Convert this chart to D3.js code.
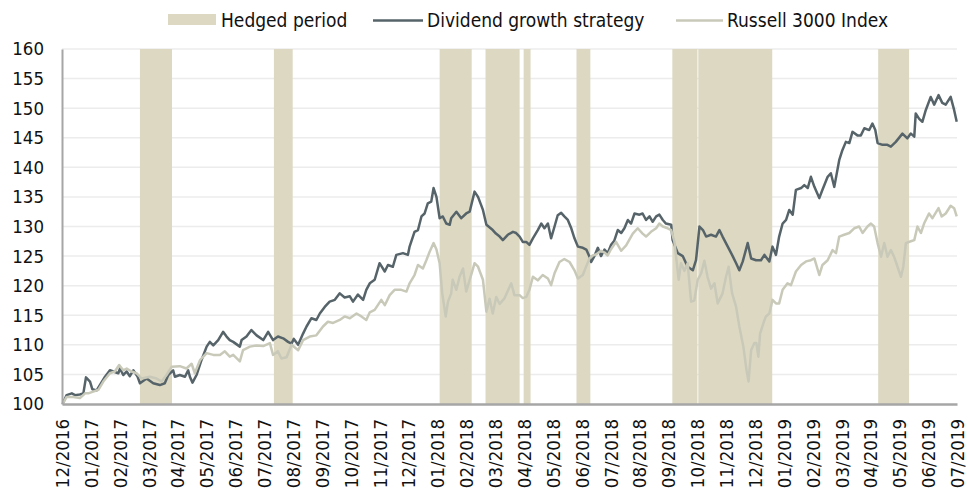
<!DOCTYPE html>
<html><head><meta charset="utf-8">
<script src="https://cdn.jsdelivr.net/npm/d3@7"></script>
<style>
body{margin:0;background:#fff}
svg{display:block}
text{font-family:"DejaVu Sans Condensed","DejaVu Sans",sans-serif;font-stretch:condensed;fill:#111}
</style>
</head><body>
<svg id="chart" width="968" height="489"></svg>
<script>
// ---------- data ----------
const monthLabels = ["12/2016","01/2017","02/2017","03/2017","04/2017","05/2017","06/2017","07/2017","08/2017","09/2017","10/2017","11/2017","12/2017",
  "01/2018","02/2018","03/2018","04/2018","05/2018","06/2018","07/2018","08/2018","09/2018","10/2018","11/2018","12/2018",
  "01/2019","02/2019","03/2019","04/2019","05/2019","06/2019","07/2019"];
const yTicks = [100,105,110,115,120,125,130,135,140,145,150,155,160];

// hedged periods, in months since 12/2016
const hedgeStart = [2.70, 7.34, 13.08, 14.67, 15.99, 17.82, 21.14, 22.04, 28.27];
const hedgeEnd   = [3.81, 7.99, 14.19, 15.85, 16.23, 18.30, 22.01, 24.60, 29.34];

// Dividend growth strategy (time in months since 12/2016, index value)
const dividendT = [0.02,0.16,0.34,0.45,0.62,0.74,0.83,0.97,1.05,1.20,1.31,1.49,1.66,1.78,1.95,2.01,2.12,2.24,2.35,2.47,2.61,2.70,2.93,3.16,3.39,3.56,3.68,3.85,3.91,4.08,4.26,4.37,4.43,4.52,4.66,4.83,5.01,5.12,5.24,5.41,5.58,5.70,5.81,5.93,6.16,6.22,6.39,6.56,6.74,6.97,7.14,7.31,7.48,7.66,7.83,7.95,8.03,8.18,8.35,8.47,8.64,8.81,8.93,9.10,9.27,9.45,9.62,9.79,9.97,10.08,10.25,10.43,10.54,10.66,10.83,11.00,11.18,11.29,11.46,11.58,11.81,11.98,12.04,12.21,12.33,12.45,12.56,12.67,12.79,12.87,12.97,13.08,13.19,13.31,13.43,13.48,13.66,13.83,14.00,14.12,14.29,14.41,14.58,14.70,14.92,15.03,15.16,15.27,15.44,15.62,15.73,15.85,15.96,16.08,16.19,16.31,16.48,16.60,16.71,16.83,16.94,17.06,17.17,17.29,17.40,17.52,17.64,17.75,17.87,18.04,18.16,18.27,18.33,18.44,18.56,18.67,18.79,18.90,19.02,19.13,19.25,19.37,19.48,19.60,19.71,19.83,20.00,20.11,20.23,20.35,20.46,20.58,20.69,20.81,20.92,21.10,21.15,21.33,21.50,21.67,21.85,21.96,22.08,22.20,22.31,22.48,22.65,22.77,22.88,23.06,23.23,23.35,23.46,23.58,23.75,23.87,24.04,24.21,24.33,24.50,24.61,24.73,24.84,24.96,25.08,25.19,25.31,25.42,25.60,25.71,25.83,25.94,26.06,26.23,26.34,26.52,26.63,26.75,26.92,27.03,27.15,27.27,27.38,27.55,27.67,27.79,27.96,28.07,28.17,28.25,28.42,28.59,28.71,28.88,29.11,29.28,29.40,29.52,29.57,29.69,29.80,29.92,30.09,30.21,30.36,30.49,30.61,30.78,30.90,30.99];
const dividendV = [100,101.5,101.8,101.5,101.6,101.8,104.5,103.8,102.5,102.3,103.2,104.6,105.7,105.5,105.2,106.0,104.9,105.5,104.7,105.7,104.7,103.5,104.3,103.5,103.2,103.5,104.9,105.7,104.6,104.9,104.6,105.7,104.6,103.6,104.9,107.4,109.7,110.5,109.9,110.8,112.2,111.4,110.8,110.5,109.7,110.8,111.4,112.5,111.6,110.8,112.2,110.8,111.4,111.1,110.5,110.2,111.0,110.0,111.9,113.1,114.5,114.2,115.3,116.4,117.3,117.6,118.7,118.0,118.2,117.3,118.5,117.6,119.3,120.4,121.0,123.8,122.4,123.5,123.2,125.2,125.5,125.2,126.6,129.1,129.4,131.7,132.2,133.9,134.2,136.5,135.0,131.4,131.7,130.5,130.3,131.4,132.5,131.4,132.2,132.5,135.9,135.0,132.8,130.3,129.4,128.8,128.3,127.7,128.6,129.1,128.9,128.3,127.4,127.4,126.9,128.0,129.4,130.5,129.7,130.5,128.0,130.0,131.9,132.3,131.7,131.1,129.7,128.0,126.6,126.4,126.1,124.9,124.0,125.0,126.4,125.0,126.1,125.5,126.9,127.6,129.4,128.9,129.7,131.1,130.5,132.2,132.0,132.2,131.1,131.7,130.8,131.7,132.0,131.1,130.5,130.3,127.7,125.5,125.0,123.2,122.6,124.3,130.0,129.4,128.3,128.6,128.3,129.4,128.3,126.6,125.0,123.8,122.6,124.1,127.2,124.6,124.3,124.3,125.2,124.1,126.6,125.2,128.3,130.5,131.1,132.8,132.0,136.2,136.5,137.0,136.5,138.4,136.7,134.8,136.2,138.4,139.0,136.7,141.2,142.9,144.3,144.1,146.0,145.4,145.4,146.6,146.3,147.4,146.3,144.1,143.8,143.8,143.5,144.3,145.7,144.9,145.7,145.2,149.1,148.2,147.7,149.7,151.9,150.6,152.2,150.9,150.6,151.9,149.7,147.7];

// Russell 3000 Index
const russellT = [0.02,0.16,0.39,0.62,0.80,0.91,1.08,1.26,1.43,1.66,1.83,1.98,2.12,2.24,2.41,2.58,2.76,3.04,3.28,3.45,3.62,3.80,4.08,4.31,4.49,4.60,4.78,5.01,5.24,5.47,5.64,5.81,5.93,6.16,6.27,6.51,6.74,6.97,7.20,7.31,7.48,7.60,7.78,7.95,8.18,8.35,8.58,8.81,9.04,9.21,9.39,9.62,9.79,9.97,10.20,10.37,10.54,10.66,10.83,11.06,11.18,11.35,11.52,11.75,11.93,12.04,12.21,12.33,12.50,12.62,12.73,12.87,12.97,13.08,13.17,13.29,13.37,13.48,13.53,13.66,13.77,13.89,14.00,14.12,14.17,14.29,14.41,14.58,14.70,14.81,14.92,15.04,15.16,15.33,15.56,15.67,15.85,15.96,16.08,16.19,16.31,16.48,16.65,16.83,16.94,17.06,17.23,17.40,17.58,17.75,17.87,18.04,18.16,18.27,18.38,18.51,18.67,18.79,18.90,19.02,19.19,19.37,19.54,19.77,19.94,20.11,20.23,20.40,20.58,20.69,20.81,20.98,21.10,21.21,21.36,21.44,21.56,21.67,21.79,21.90,22.02,22.14,22.25,22.36,22.48,22.60,22.71,22.88,23.00,23.09,23.21,23.35,23.46,23.60,23.71,23.78,23.87,23.98,24.05,24.12,24.18,24.29,24.38,24.50,24.61,24.73,24.84,24.96,25.13,25.25,25.42,25.60,25.77,25.94,26.06,26.23,26.34,26.52,26.69,26.81,26.92,27.09,27.27,27.44,27.61,27.73,27.90,28.02,28.13,28.25,28.37,28.48,28.59,28.71,28.82,28.94,29.06,29.14,29.23,29.40,29.52,29.63,29.75,29.86,30.03,30.15,30.36,30.47,30.61,30.78,30.90,30.99];
const russellV = [100,101.2,101.2,101.0,101.8,101.8,102.1,102.4,103.8,105.2,105.5,106.6,105.7,106.0,105.5,105.2,104.3,104.6,104.3,103.8,104.9,106.3,106.4,106.0,106.8,105.2,107.4,108.6,108.3,108.3,108.9,108.0,108.3,107.2,109.1,109.7,109.9,109.8,110.3,108.3,108.9,107.7,107.9,110.0,109.1,110.8,111.4,111.6,113.1,113.9,113.7,114.2,114.8,114.5,115.3,114.8,114.2,115.5,115.9,117.6,116.7,118.4,119.3,119.3,119.0,120.4,121.8,123.5,122.9,124.3,125.7,127.2,126.1,123.8,118.7,114.8,117.3,118.7,121.0,119.3,121.5,122.9,119.0,121.0,121.8,123.8,123.2,121.0,115.6,117.8,115.3,118.1,116.9,117.9,120.4,118.4,118.4,117.9,118.1,119.3,121.5,120.9,121.8,121.2,120.1,122.1,124.0,124.5,124.0,122.6,121.2,121.8,123.3,124.6,125.1,125.3,125.9,125.6,125.1,126.2,127.4,125.9,126.8,128.8,129.7,128.8,128.3,129.1,129.7,130.5,130.0,129.7,129.4,127.5,121.0,123.8,122.5,123.8,117.3,117.5,121.0,122.1,124.2,121.5,119.5,120.4,117.0,118.7,121.5,123.2,118.7,116.4,113.1,109.7,105.7,103.8,109.1,110.3,110.3,108.0,111.9,113.6,114.8,115.3,117.6,117.0,117.0,119.3,120.4,120.1,122.4,123.5,124.1,124.3,124.6,121.8,123.5,124.3,126.0,125.5,128.3,128.6,128.9,129.7,130.0,128.9,130.0,130.5,130.0,127.2,124.9,127.2,124.9,126.0,124.9,123.2,121.5,123.2,127.2,127.5,127.7,130.0,128.9,130.5,132.2,131.4,133.1,131.7,132.2,133.5,133.1,131.7];

const colors = {hedge:"#ddd8c2", dividend:"#56646a", russell:"#c9c9b9", grid:"#ececec", axis:"#a6a6a6"};

// ---------- chart ----------
const svg = d3.select("#chart");
const x = d3.scaleLinear().domain([0, monthLabels.length - 1]).range([62, 957]);
const y = d3.scaleLinear().domain([100, 160]).range([404, 49]);

// gridlines
svg.append("g").selectAll("line").data(yTicks.filter(v => v > 100)).join("line")
  .attr("x1", x.range()[0]).attr("x2", x.range()[1])
  .attr("y1", d => y(d)).attr("y2", d => y(d))
  .attr("stroke", colors.grid).attr("stroke-width", 1.5);

// hedged periods
svg.append("g").selectAll("rect").data(hedgeStart.map((s, i) => [s, hedgeEnd[i]])).join("rect")
  .attr("x", d => x(d[0])).attr("width", d => x(d[1]) - x(d[0]))
  .attr("y", y(160)).attr("height", y(100) - y(160))
  .attr("fill", colors.hedge);

// lines
const line = d3.line().x(d => x(d[0])).y(d => y(d[1]));
svg.append("path").datum(dividendT.map((t, i) => [t, dividendV[i]]))
  .attr("d", line).attr("fill", "none").attr("stroke", colors.dividend)
  .attr("stroke-width", 2.5).attr("stroke-linejoin", "round");
svg.append("path").datum(russellT.map((t, i) => [t, russellV[i]]))
  .attr("d", line).attr("fill", "none").attr("stroke", colors.russell)
  .attr("stroke-width", 2.5).attr("stroke-linejoin", "round");

// y axis
const yAxis = svg.append("g").attr("transform", `translate(${x.range()[0]},0)`)
  .call(d3.axisLeft(y).tickValues(yTicks).tickSize(0).tickSizeOuter(0).tickPadding(18).tickFormat(d3.format("d")));
yAxis.select(".domain").attr("stroke", colors.axis).attr("stroke-width", 2);
yAxis.selectAll("text").style("font-size", "18.5px").attr("fill", "#111");

// x axis
const xAxis = svg.append("g").attr("transform", `translate(0,${y(100)})`)
  .call(d3.axisBottom(x).tickValues(d3.range(monthLabels.length)).tickSize(0).tickSizeOuter(0)
    .tickFormat(i => monthLabels[i]));
xAxis.select(".domain").attr("stroke", colors.axis).attr("stroke-width", 2.5);
xAxis.selectAll("text")
  .attr("transform", "rotate(-90)")
  .attr("text-anchor", "end")
  .attr("x", -15).attr("y", 0).attr("dy", "0.35em")
  .style("font-size", "18.5px").attr("fill", "#111");

// legend
const lg = svg.append("g").style("font-size", "19px");
lg.append("rect").attr("x", 168).attr("y", 14).attr("width", 48).attr("height", 11).attr("fill", colors.hedge);
lg.append("text").attr("x", 221).attr("y", 27).text("Hedged period");
lg.append("line").attr("x1", 373).attr("x2", 423).attr("y1", 20.5).attr("y2", 20.5)
  .attr("stroke", colors.dividend).attr("stroke-width", 2.5);
lg.append("text").attr("x", 427).attr("y", 27).text("Dividend growth strategy");
lg.append("line").attr("x1", 676).attr("x2", 723).attr("y1", 20.5).attr("y2", 20.5)
  .attr("stroke", colors.russell).attr("stroke-width", 2.5);
lg.append("text").attr("x", 727).attr("y", 27).text("Russell 3000 Index");
</script>
</body></html>
